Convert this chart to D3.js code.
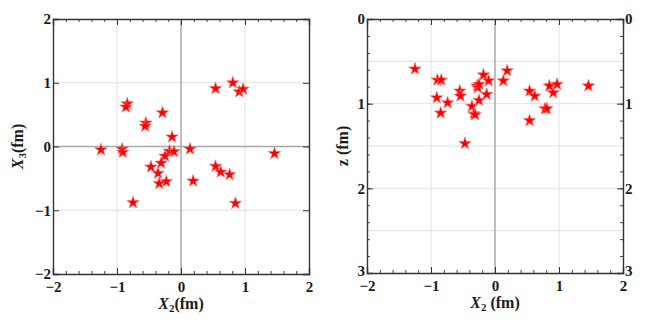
<!DOCTYPE html>
<html>
<head>
<meta charset="utf-8">
<script src="https://cdn.jsdelivr.net/npm/d3@7"></script>
<style>
  body { margin: 0; background: #fff; }
  svg text { font-family: "Liberation Serif", "DejaVu Serif", serif; font-weight: bold; }
</style>
</head>
<body>
<svg id="chart"></svg>
<script>
// left panel: transverse positions X2, X3 (fm)
const leftX2 = [0.54, 0.81, 0.91, 0.97, -0.84, -0.86, -0.29, -0.55, -0.56, -0.14,
  -1.25, -0.92, -0.91, 0.14, -0.18, -0.11, -0.25, 1.46, -0.47, -0.31,
  -0.36, -0.34, -0.23, 0.19, -0.75, 0.54, 0.62, 0.76, 0.85];
const leftX3 = [0.91, 1.0, 0.86, 0.90, 0.67, 0.62, 0.53, 0.37, 0.32, 0.15,
  -0.05, -0.04, -0.09, -0.04, -0.07, -0.08, -0.15, -0.11, -0.32, -0.26,
  -0.42, -0.58, -0.55, -0.54, -0.88, -0.31, -0.40, -0.44, -0.89];

// right panel: X2 vs depth z (fm)
const rightX2 = [-1.25, -0.90, -0.84, -0.91, -0.85, -0.74, -0.55, -0.54, -0.47, -0.36,
  -0.33, -0.31, -0.28, -0.27, -0.25, -0.25, -0.18, -0.13, -0.10, 0.13,
  0.19, 0.54, 0.62, 0.54, 0.78, 0.81, 0.85, 0.91, 0.97, 1.46];
const rightZ = [0.59, 0.72, 0.72, 0.93, 1.11, 0.99, 0.85, 0.91, 1.47, 1.03,
  1.12, 1.13, 0.79, 0.81, 0.77, 0.96, 0.66, 0.89, 0.73, 0.73,
  0.61, 0.85, 0.91, 1.20, 1.06, 1.06, 0.79, 0.87, 0.77, 0.79];

const xTicks = [-2, -1, 0, 1, 2];
const leftYTicks = [-2, -1, 0, 1, 2];
const rightYTicks = [0, 1, 2, 3];

const svg = d3.select('#chart').attr('width', 648).attr('height', 322);
const star = d3.symbol().type(d3.symbolStar).size(48);

function panel(cfg) {
  const g = svg.append('g').attr('transform', `translate(${cfg.left}, ${cfg.top})`);
  const w = cfg.width, h = cfg.height;

  const x = d3.scaleLinear().domain([-2, 2]).range([0, w]);
  const y = d3.scaleLinear().domain(cfg.yDomain).range([h, 0]);

  // gridlines
  g.append('g').selectAll('line')
    .data(cfg.xGrid)
    .join('line')
    .attr('x1', d => x(d)).attr('x2', d => x(d))
    .attr('y1', 0).attr('y2', h)
    .attr('stroke', '#e2e2e2').attr('stroke-width', 1);
  g.append('g').selectAll('line')
    .data(cfg.yGrid)
    .join('line')
    .attr('x1', 0).attr('x2', w)
    .attr('y1', d => y(d)).attr('y2', d => y(d))
    .attr('stroke', '#e2e2e2').attr('stroke-width', 1);

  // zero axes
  g.append('line')
    .attr('x1', x(0)).attr('x2', x(0)).attr('y1', 0).attr('y2', h)
    .attr('stroke', '#a8a8a8').attr('stroke-width', 1.5);
  if (cfg.zeroH) {
    g.append('line')
      .attr('x1', 0).attr('x2', w).attr('y1', y(0)).attr('y2', y(0))
      .attr('stroke', '#a8a8a8').attr('stroke-width', 1.5);
  }

  // frame axes, ticks pointing inward
  const minorX = d3.range(-2, 2.001, 0.2);
  const minorY = d3.range(cfg.yDomain[1], cfg.yDomain[0] + 0.001, 0.2);
  const frame = [
    {axis: d3.axisBottom(x), t: `translate(0,${h})`, ticks: xTicks, minor: minorX, labels: true, pad: 7},
    {axis: d3.axisTop(x), t: 'translate(0,0)', ticks: xTicks, minor: minorX, labels: false, pad: 3},
    {axis: d3.axisLeft(y), t: 'translate(0,0)', ticks: cfg.yTicks, minor: minorY, labels: true, pad: 2},
    {axis: d3.axisRight(y), t: `translate(${w},0)`, ticks: cfg.yTicks, minor: minorY, labels: cfg.rightLabels, pad: 2}
  ];
  frame.forEach(f => {
    g.append('g').attr('transform', f.t)
      .call(f.axis.tickValues(f.minor).tickSize(-3).tickFormat(''))
      .call(a => a.select('.domain').remove())
      .selectAll('line').attr('stroke', '#444');
    const ax = g.append('g').attr('transform', f.t)
      .call(f.axis.tickValues(f.ticks).tickSize(-6).tickPadding(f.pad)
        .tickFormat(f.labels ? (d => d < 0 ? '\u2212' + Math.abs(d) : d) : ''));
    ax.select('.domain').attr('stroke', '#333').attr('stroke-width', 1.4);
    ax.selectAll('line').attr('stroke', '#333');
    ax.selectAll('text').attr('font-size', 15).attr('fill', '#1a1a1a');
  });

  // lowest y label sits a touch higher so it clears the x labels
  g.selectAll('.tick text')
    .filter(d => cfg.yTicks.includes(d) && y(d) === h && d !== -2)
    .attr('dy', '0.15em');

  // points
  g.append('g').selectAll('path')
    .data(cfg.xs.map((d, i) => [d, cfg.ys[i]]))
    .join('path')
    .attr('transform', d => `translate(${x(d[0])},${y(d[1])})`)
    .attr('d', star)
    .attr('fill', '#ff0000')
    .attr('stroke', '#ff7070')
    .attr('stroke-width', 0.6);

  // x label
  const xl = g.append('text')
    .attr('x', w / 2).attr('y', h + 35)
    .attr('text-anchor', 'middle').attr('font-size', 16).attr('fill', '#1a1a1a');
  xl.append('tspan').attr('font-style', 'italic').text('X');
  xl.append('tspan').attr('font-size', 11).attr('dy', 3).text('2');
  xl.append('tspan').attr('dy', -3).text(cfg.xSpace ? ' (fm)' : '(fm)');

  // y label
  const yl = g.append('text')
    .attr('transform', `translate(${cfg.yLabelX},${h / 2}) rotate(-90)`)
    .attr('text-anchor', 'middle').attr('font-size', 16).attr('fill', '#1a1a1a');
  cfg.yLabel(yl);
}

panel({
  left: 53, top: 19, width: 256, height: 255,
  yDomain: [-2, 2], yTicks: leftYTicks,
  xGrid: [-1, 1], yGrid: [-1, 1], zeroH: true, rightLabels: false,
  xs: leftX2, ys: leftX3, xSpace: false, yLabelX: -30,
  yLabel: t => {
    t.append('tspan').attr('font-style', 'italic').text('X');
    t.append('tspan').attr('font-size', 11).attr('dy', 3).text('3');
    t.append('tspan').attr('dy', -3).text('(fm)');
  }
});

panel({
  left: 367, top: 19, width: 256, height: 254,
  yDomain: [3, 0], yTicks: rightYTicks,
  xGrid: [-1, 1], yGrid: [0.5, 1, 1.5, 2, 2.5], zeroH: false, rightLabels: true,
  xs: rightX2, ys: rightZ, xSpace: true, yLabelX: -19,
  yLabel: t => t.text('z (fm)')
});
</script>
</body>
</html>
